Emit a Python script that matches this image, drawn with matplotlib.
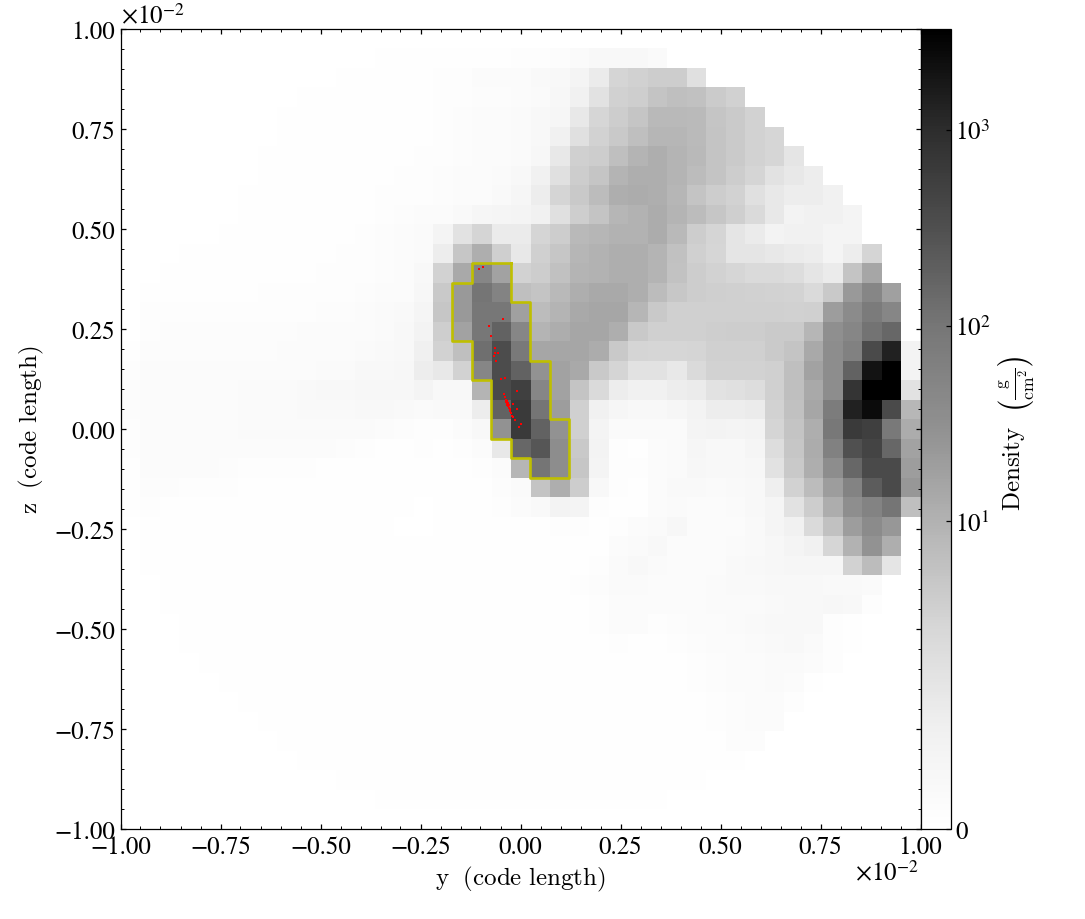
import numpy as np
import matplotlib
matplotlib.use('Agg')
import matplotlib.pyplot as plt
from matplotlib.colors import SymLogNorm, LinearSegmentedColormap
from matplotlib.ticker import MultipleLocator, FuncFormatter

plt.rcParams['mathtext.fontset'] = 'cm'
plt.rcParams['font.family'] = 'STIXGeneral'

# first filled column of every row, top row first (row 0 and 40 are blank)
first_col = [0, 13, 11, 9, 8, 7, 6, 5, 4, 3, 3, 2, 2, 1, 1, 1, 0, 0, 0, 0, 0,
             0, 0, 0, 0, 1, 1, 1, 2, 2, 3, 3, 4, 5, 6, 7, 8, 9, 11, 13, 16]

# projected density, g/cm^2
density_rows = [
    [],
    [.03,.03,.04, .05,.05,.08,.08,.1,.12,.15,.3,.4,.4,.4,.3],
    [.03,.03,.03,.04,.06, .1,.1,.2,.2,.25,.35,.4,.65,1.1,2,2.3,2.7,2.7,1.5],
    [.03,.03,.03,.04,.05,.06,.08, .1,.1,.15,.15,.2,.3,.5,.85,1.4,2.3,2.6,3.6,4.3,4,2.8,2.3],
    [.03,.03,.03,.04,.05,.06,.07,.08, .1,.15,.2,.25,.3,.4,.55,1.2,1.9,2.7,3.4,5.2,5.2,5,3.5,2.9,2.2],
    [.02,.03,.03,.03,.04,.05,.06,.07,.08, .1,.15,.2,.25,.3,.4,.8,1.5,2.2,3,4.3,5.8,5.8,5,3.6,2.9,2.2,1.9],
    [.02,.03,.03,.03,.04,.05,.06,.07,.08,.09, .1,.15,.2,.25,.3,.5,1.2,2.4,2.7,4.3,6.2,7.4,6.2,5.2,3.6,2.9,2.2,1.9,1.3],
    [.02,.02,.03,.03,.03,.04,.05,.06,.08,.1,.12, .15,.2,.25,.3,.4,.8,1.5,2.7,3.4,6.2,7.4,7.4,6.2,4.7,3.6,2.7,2,1.4,1.2,1],
    [.02,.02,.03,.03,.03,.04,.05,.06,.08,.1,.12,.13, .15,.2,.25,.35,.55,1,2,3,4.7,7.4,8,7.4,5.8,3.6,2.7,2.2,1.5,1.2,1,1,.8],
    [.02,.02,.02,.03,.03,.03,.04,.05,.06,.08,.1,.15,.2, .25,.35,.55,.6,.65,.85,1.5,2.6,3.6,5.8,6.6,8,6.2,4.7,3.3,2.5,1.7,1.2,.7,.8,.85,.65],
    [.02,.02,.03,.03,.03,.04,.05,.06,.08,.1,.15,.2,.3, .65,1.4,2,1.1,1.1,2,2.7,5.2,5.8,6.6,6.6,8,5.2,2.7,2,1.3,1.1,.7,.8,.85,.65,.65],
    [.02,.03,.04,.05,.05,.05,.06,.08,.08,.1,.12,.15,.2,.3, 1,3.3,7.4,2.5,1.2,2.4,3.3,5.8,6.6,7.4,7.4,6.2,4,2.4,1.9,1.3,1.3,1.2,1.1,1,.65,1,2],
    [.05,.05,.05,.06,.06,.06,.08,.08,.1,.1,.12,.15,.25,.4, 2.2,8.9,33,11,2.2,2.7,4,6.2,6.6,7.4,7.4,6.2,3.8,2.7,2.2,1.9,1.7,1.7,1.6,1.3,1.1,3.6,9.5],
    [.05,.08,.08,.08,.08,.08,.1,.1,.1,.1,.12,.15,.2,.25,.5, 3,15,68,36,4.3,3.6,5.2,7.4,8.9,8.9,7.4,4.7,3.2,2.7,2.5,2.4,2.3,2.2,2.1,1.7,3,15,33,12],
    [.1,.1,.1,.12,.12,.12,.12,.12,.12,.15,.15,.2,.3,.35,.6, 3.3,15,62,62,12,4.7,6.2,8.9,9.5,9.5,5.8,3,2.4,2.4,2.4,2.4,2.4,2.4,2.3,2.4,13,25,52,33],
    [.1,.15,.15,.15,.15,.15,.15,.15,.2,.2,.2,.25,.3,.4,.7, 2.6,11,62,118,33,6.2,7.8,9.5,9.5,7.4,3,2.4,2.4,2.4,2.6,2.7,2.7,2.9,2.9,5.8,21,33,72,100],
    [.05,.15,.15,.15,.15,.15,.15,.15,.2,.2,.2,.25,.3,.35,.4,.9, 2.2,4.3,82,230,56,9.5,9.5,9.5,8,3,2,1.9,1.9,2,2.4,2.4,2.4,2.9,3.6,8.9,23,39,246,900,.7],
    [.1,.2,.2,.2,.2,.2,.2,.2,.25,.25,.3,.3,.4,.4,.5,1, 1.2,2.2,33,230,118,19,11,8.9,3,2,1.4,1.4,1.2,1.7,2.2,2.2,2.2,2.4,4.3,11,23,118,1300,2700,.7],
    [.15,.2,.2,.25,.25,.25,.3,.3,.3,.35,.4,.4,.45,.5,.5,.65, .4,.4,6.2,246,340,33,11,3.6,1.7,1,.85,.85,1,1.1,1.4,1.5,1.6,2.4,4.3,8.9,23,515,2250,3270,1.4],
    [.15,.2,.25,.25,.25,.25,.3,.3,.3,.35,.35,.35,.4,.4,.35,.3, .35,.35,1,118,430,68,13,2.4,.85,.55,.4,.4,.55,.7,1,1,1.1,2.2,4,9.5,50,900,1590,246,5.5],
    [.1,.25,.25,.25,.25,.25,.3,.3,.3,.3,.3,.3,.3,.2,.15,.1, .1,.2,.4,19,430,118,19,2.4,.65,.3,.3,.3,.3,.65,.7,.65,.7,2,3.6,7.4,60,430,360,56,8],
    [.1,.2,.2,.2,.25,.25,.2,.2,.2,.2,.2,.15,.1,.08,.08,.1, .08,.1,.2,1.2,100,170,23,3,.7,.1,.08,.2,.3,.55,.4,.4,.6,1.6,3.3,8,39,205,300,100,11],
    [.08,.2,.2,.2,.2,.15,.12,.12,.1,.1,.08,.08,.05,.05,.05,.05, .05,.08,.1,.2,5.8,68,23,3.3,.65,.1,.1,.2,.3,.5,.4,.4,.5,1.4,3,7.4,23,100,246,246,13],
    [.08,.15,.15,.1,.1,.1,.08,.08,.08,.06,.05,.05,.05,.05,.04,.03, .05,.05,.08,.15,.3,3.6,7.4,2.7,.4,.1,.08,.2,.35,.35,.3,.35,.4,.95,2.2,4.7,13,36,140,246,16],
    [.03,.1,.05,.05,.05,.05,.05,.05,.05,.05,.04,.03,.03,.03,.03,.02, .03,.05,.05,.1,.2,.35,.7,.65,.1,.05,.08,.2,.3,.2,.2,.3,.4,.6,1.4,2.7,7.8,22,36,68,4.3],
    [.04,.03,.03,.03,.03,.03,.03,.03,.03,.03,.03,.03,.03,.02,.02, .03,.03, .05,.08,.08,.08,.1,.1,.08,.1,.2,.3,.45,.2,.2,.2,.35,.6,.8,1.7,4,13,25,16],
    [.03]*19 + [.05,.05,.08,.08,.08,.2,.3,.4,.25,.2,.2,.3,.35,.5,.65,.8,1.9,6.6,19,7.4],
    [.03]*20 + [.05,.05,.08,.1,.3,.4,.3,.2,.2,.25,.35,.4,.5,.55,.55,.55,2.2,4.7,1.3],
    [.03]*21 + [.1,.15,.3,.3,.2,.2,.2,.3,.35,.35,.4,.4,.4,.35,.35,.3],
    [.03]*22 + [.1,.25,.25,.2,.2,.2,.3,.3,.3,.35,.4,.4,.45,.4,.1],
    [.03]*21 + [.1,.2,.2,.1,.15,.2,.2,.3,.35,.4,.4,.4,.1,.03],
    [.03]*22 + [.1,.08,.08,.1,.15,.2,.25,.3,.35,.4,.3,.1,.03],
    [.03]*21 + [.08,.06,.06,.08,.1,.15,.2,.25,.3,.3,.25,.1],
    [.03]*20 + [.08,.06,.06,.08,.1,.15,.2,.25,.3,.2,.08],
    [.03]*19 + [.05,.05,.05,.06,.08,.12,.15,.2,.25,.1],
    [.03]*18 + [.05,.05,.05,.05,.08,.1,.15,.25,.25],
    [.03]*17 + [.04,.04,.04,.05,.06,.08,.15,.15],
    [.03]*16 + [.04,.04,.04,.05,.05,.06,.06],
    [.03]*19,
    [.03]*15,
    [],
]

# my readings came out low against the colour bar
reading_gain = 1.5
density_max = 3270

# clump outline: for rows 12..22 the first and last cell inside it
clump_rows = list(range(12, 23))
clump_first = [18, 17, 17, 17, 18, 18, 19, 19, 19, 20, 21]
clump_last = [19, 19, 20, 20, 20, 21, 21, 21, 22, 22, 22]

# particles, in units of 1e-2 code length
particle_y = [-.105, -.095, -.0445, -.080, -.075, -.065, -.065, -.056, -.066, -.061, -.040, -.048,
              -.010, -.041, -.040, -.037, -.036, -.035, -.032, -.030, -.033, -.018, -.010, -.026,
              -.025, -.022, -.018, -.014, .001, -.005, -.034, -.031, -.029, -.027, -.036, -.033]
particle_z = [.401, .405, .274, .257, .233, .203, .191, .189, .183, .170, .127, .124,
              .096, .088, .080, .0725, .067, .062, .057, .060, .069, .0625, .050, .046,
              .040, .033, .029, .023, .013, .004, .065, .064, .052, .050, .072, .060]

# grey level along the colour bar
cmap_pos = [0, .125, .25, .385, .5, .63, .75, .875, 1]
cmap_gray = [255, 240, 215, 178, 145, 118, 80, 45, 0]

cbar_ticks = [0, 10, 100, 1000]
cbar_labels = ['$0$', '$10^{1}$', '$10^{2}$', '$10^{3}$']

grid = np.zeros((41, 41))
for r, vals in enumerate(density_rows):
    grid[r, first_col[r]:first_col[r] + len(vals)] = vals
grid = np.clip(grid * reading_gain, 0, density_max)

half = 0.01
cell = 2 * half / 41

fig = plt.figure(figsize=(10.85, 9.2), dpi=100)
ax = fig.add_axes([120.5 / 1085, 90 / 920, 800 / 1085, 800 / 920])
cax = fig.add_axes([920.5 / 1085, 90 / 920, 30 / 1085, 800 / 920])

cmap = LinearSegmentedColormap.from_list('bar', [(p, (g / 255,) * 3) for p, g in zip(cmap_pos, cmap_gray)], N=256)
norm = SymLogNorm(linthresh=2.685, linscale=0.9, vmin=0, vmax=density_max, base=10)
im = ax.imshow(grid, cmap=cmap, norm=norm, extent=[-half, half, -half, half],
               origin='upper', interpolation='nearest', aspect='equal')

# walk down the right side of the clump and back up the left side
right_y, right_z, left_y, left_z = [], [], [], []
for r, a, b in zip(clump_rows, clump_first, clump_last):
    top = half - r * cell
    bot = top - cell
    right_y += [-half + (b + 1) * cell] * 2
    right_z += [top, bot]
    left_y += [-half + a * cell] * 2
    left_z += [top, bot]
outline_y = right_y + left_y[::-1] + right_y[:1]
outline_z = right_z + left_z[::-1] + right_z[:1]
ax.plot(outline_y, outline_z, color='y', lw=1.9, solid_joinstyle='round')

ax.scatter(np.array(particle_y) * 0.01, np.array(particle_z) * 0.01, s=1.1, c='r', marker='s', linewidths=0)

ax.set_xlim(-half, half)
ax.set_ylim(-half, half)
fmt = FuncFormatter(lambda v, pos: ('%.2f' % (v / 0.01)).replace('-', '\u2212'))
for axis in (ax.xaxis, ax.yaxis):
    axis.set_major_locator(MultipleLocator(0.0025))
    axis.set_minor_locator(MultipleLocator(0.0005))
    axis.set_major_formatter(fmt)
ax.tick_params(which='major', direction='in', length=3.6, width=0.9, top=True, right=True, labelsize=18, pad=4)
ax.tick_params(which='minor', direction='in', length=2, width=0.7, top=True, right=True)
for s in ax.spines.values():
    s.set_linewidth(0.9)

ax.set_xlabel(r'$\mathrm{y\ \ (code\ length)}$', fontsize=18, labelpad=4)
ax.set_ylabel(r'$\mathrm{z\ \ (code\ length)}$', fontsize=18, labelpad=5.5)
ax.text(0, 1.0, r'$\times 10^{-2}$', transform=ax.transAxes, fontsize=18, ha='left', va='bottom',
        math_fontfamily='stix')
ax.text(0.9975, -0.04, r'$\times 10^{-2}$', transform=ax.transAxes, fontsize=18, ha='right', va='top',
        math_fontfamily='stix')

cb = fig.colorbar(im, cax=cax)
cax.minorticks_off()
cax.set_yticks(cbar_ticks, labels=cbar_labels)
cax.tick_params(which='major', direction='in', length=3.6, width=0.9, right=True, labelsize=18, pad=3)
for lab in cax.get_yticklabels():
    lab.set_math_fontfamily('stix')
cb.outline.set_linewidth(0.9)
fig.text(1016 / 1085, 1 - 433 / 920, r'$\mathrm{Density}\ \ \left(\frac{\mathrm{g}}{\mathrm{cm}^{2}}\right)$',
         rotation=90, fontsize=18, ha='center', va='center')

fig.savefig('out.png', dpi=100, facecolor='white')
